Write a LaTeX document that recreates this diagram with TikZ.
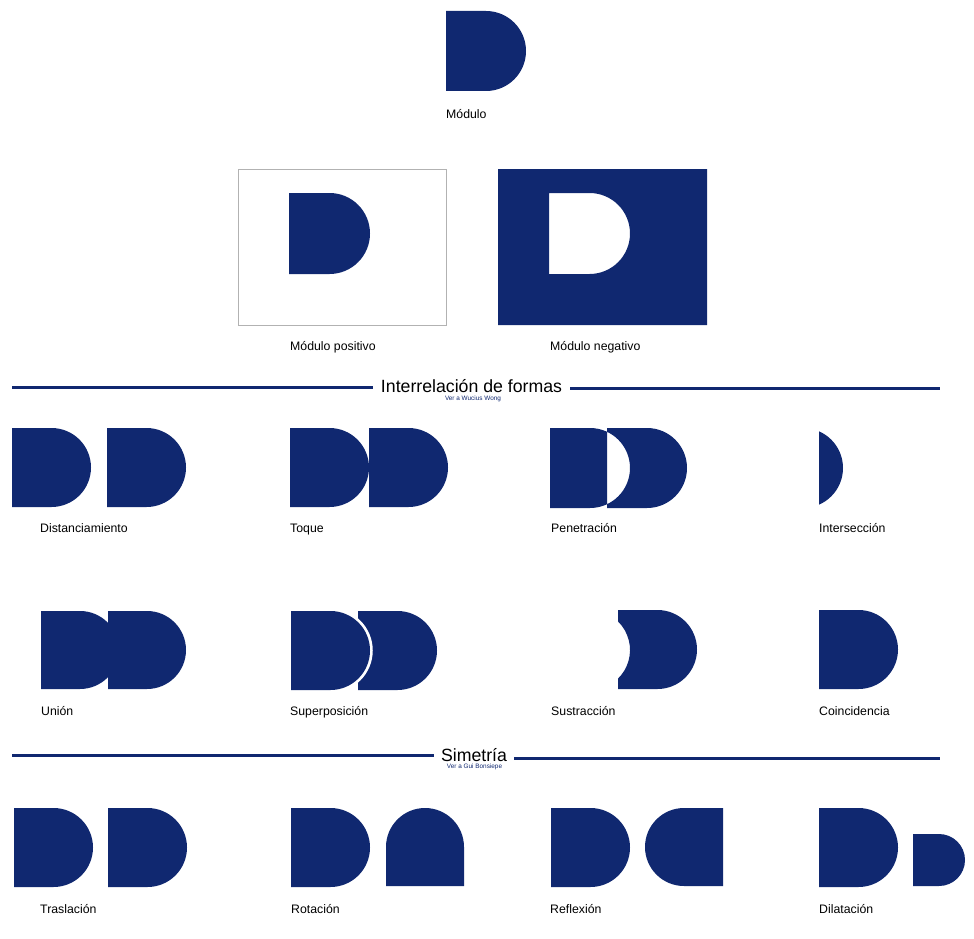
\documentclass[tikz,border=0pt]{standalone}
\usepackage{fontspec}
\setmainfont{Liberation Sans}
\usepackage{xcolor}
\usepackage{tikz}
\usetikzlibrary{calc}
\definecolor{dmodcolor}{RGB}{16,40,112}
% D module: top-left corner (x,y) in px, size s
\newcommand{\dpath}[3]{(#1,-#2) -- ++(#3/2,0) arc[start angle=90,end angle=-90,radius=#3/2] -- ++(-#3/2,0) -- cycle}
\tikzset{
  lbl/.style={anchor=base west,inner sep=0pt,font=\fontsize{12.3}{14}\selectfont},
  hdr/.style={anchor=base,inner xsep=8pt,inner ysep=0pt,font=\fontsize{17.7}{20}\selectfont},
  subhdr/.style={anchor=base,inner sep=0pt,text=dmodcolor,font=\fontsize{6.4}{7}\selectfont},
  rule/.style={dmodcolor,line width=3pt}
}

\begin{document}
\begin{tikzpicture}[x=1pt,y=1pt]
  \useasboundingbox (0,0) rectangle (974,-939);
  % module
  \fill[dmodcolor] \dpath{446}{11}{80};
  \node[lbl] (mod) at (446,-118.5) {Módulo};
  % positive / negative
  \draw[black!30] (238,-169) rectangle (446,-325);
  \fill[dmodcolor] \dpath{289}{193}{81};
  \fill[dmodcolor,even odd rule] (498,-169) rectangle (707,-325) \dpath{549}{193}{81};
  \node[lbl] (pos) at (290,-350.5) {Módulo positivo};
  \node[lbl] (neg) at (550,-350.5) {Módulo negativo};
  % header 1
  \node[hdr] (hdA) at (471.5,-392.5) {Interrelación de formas};
  \node[subhdr] (subA) at (473,-400.5) {Ver a Wucius Wong};
  \coordinate (hdAl) at (12,-387);
  \coordinate (hdAr) at (940,-388.5);
  \draw[rule] (hdAl) -- (hdAl -| hdA.west);
  \draw[rule] (hdAr -| hdA.east) -- (hdAr);
  % row 1
  \fill[dmodcolor] \dpath{12}{428}{79};
  \fill[dmodcolor] \dpath{107}{428}{79};
  \node[lbl] (dist) at (40,-532.5) {Distanciamiento};
  \fill[dmodcolor] \dpath{290}{428}{79};
  \fill[dmodcolor] \dpath{369}{428}{79};
  \node[lbl] (toq) at (290,-532.5) {Toque};
  \fill[dmodcolor,even odd rule] \dpath{550}{428}{80} \dpath{607}{428}{80};
  \node[lbl] (pen) at (551,-532.5) {Penetración};
  \begin{scope}
    \clip \dpath{819}{428}{80};
    \fill[dmodcolor] \dpath{763}{428}{80};
  \end{scope}
  \node[lbl] (inter) at (819,-532.5) {Intersección};
  % row 2
  \fill[dmodcolor] \dpath{41}{611}{78};
  \fill[dmodcolor] \dpath{108}{611}{78};
  \node[lbl] (uni) at (41,-715.5) {Unión};
  \fill[dmodcolor] \dpath{358}{611}{79};
  \draw[white,line width=5.5pt] \dpath{291}{611}{79};
  \fill[dmodcolor] \dpath{291}{611}{79};
  \node[lbl] (sup) at (290,-715.5) {Superposición};
  \fill[dmodcolor] (618,-610) -- ++(39.5,0) arc[start angle=90,end angle=-90,radius=39.5]
    -- (618,-689) -- (618,-678.6) arc[start angle=-45.6,end angle=45.6,radius=40] -- cycle;
  \node[lbl] (sus) at (551,-715.5) {Sustracción};
  \fill[dmodcolor] \dpath{819}{610}{79};
  \node[lbl] (coi) at (819,-715.5) {Coincidencia};
  % header 2
  \node[hdr,inner xsep=7pt] (hdB) at (474,-761) {Simetría};
  \node[subhdr] (subB) at (474.5,-768.3) {Ver a Gui Bonsiepe};
  \coordinate (hdBl) at (12,-755.5);
  \coordinate (hdBr) at (940,-758);
  \draw[rule] (hdBl) -- (hdBl -| hdB.west);
  \draw[rule] (hdBr -| hdB.east) -- (hdBr);
  % row 3
  \fill[dmodcolor] \dpath{14}{808}{79};
  \fill[dmodcolor] \dpath{108}{808}{79};
  \node[lbl] (tras) at (40,-913.5) {Traslación};
  \fill[dmodcolor] \dpath{291}{808}{79};
  \fill[dmodcolor] (386,-886) -- ++(78,0) -- ++(0,39) arc[start angle=0,end angle=180,radius=39] -- cycle;
  \node[lbl] (rot) at (291,-913.5) {Rotación};
  \fill[dmodcolor] \dpath{551}{808}{79};
  \fill[dmodcolor] (723,-808) -- ++(-39,0) arc[start angle=90,end angle=270,radius=39] -- ++(39,0) -- cycle;
  \node[lbl] (refl) at (550,-913.5) {Reflexión};
  \fill[dmodcolor] \dpath{819}{808}{79};
  \fill[dmodcolor] \dpath{913}{834}{52};
  \node[lbl] (dil) at (819,-913.5) {Dilatación};
\end{tikzpicture}
\end{document}
